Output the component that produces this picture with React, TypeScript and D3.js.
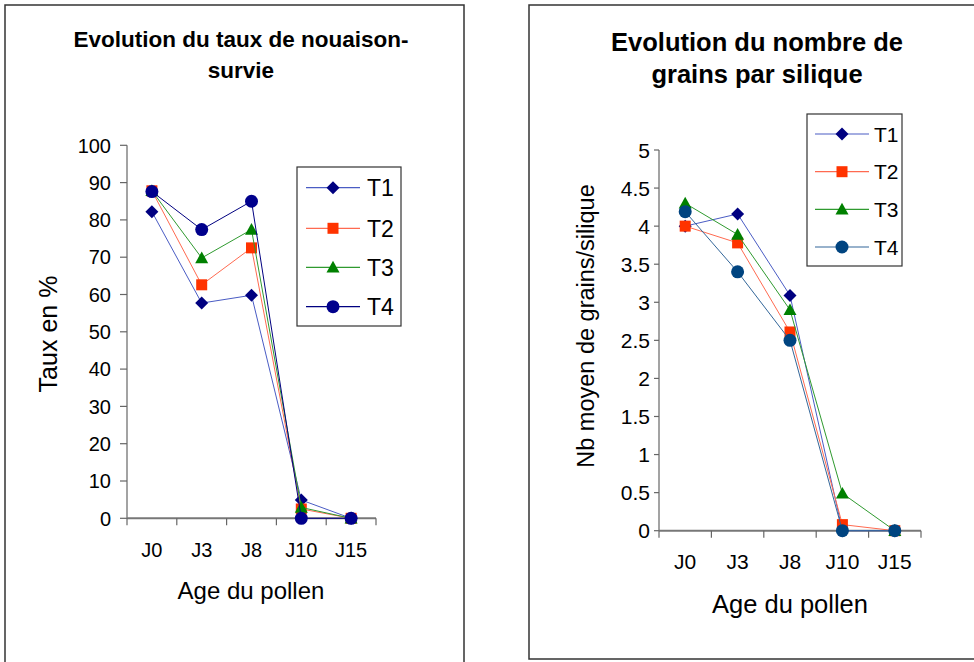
import React from "react";
import * as d3 from "d3";

const categories = ["J0", "J3", "J8", "J10", "J15"];
const seriesNames = ["T1", "T2", "T3", "T4"];

// Left chart: taux de nouaison-survie (%)
const leftT1 = [82.2, 57.7, 59.8, 4.9, 0];
const leftT2 = [87.8, 62.6, 72.5, 2.5, 0];
const leftT3 = [87.8, 69.8, 77.4, 2.9, 0];
const leftT4 = [87.6, 77.4, 85.0, 0, 0];
const leftTicks = [0, 10, 20, 30, 40, 50, 60, 70, 80, 90, 100];

// Right chart: nombre de grains par silique
const rightT1 = [4.0, 4.16, 3.09, 0, 0];
const rightT2 = [4.0, 3.78, 2.61, 0.08, 0];
const rightT3 = [4.3, 3.89, 2.9, 0.49, 0];
const rightT4 = [4.19, 3.4, 2.5, 0, 0];
const rightTicks = [0, 0.5, 1, 1.5, 2, 2.5, 3, 3.5, 4, 4.5, 5];

const FONT = "'Liberation Sans', Arial, sans-serif";

type Style = { line: string; fill: string; shape: string; size: number };

const leftStyles: Style[] = [
  { line: "#4a5cc4", fill: "#000080", shape: "diamond", size: 6.5 },
  { line: "#ff6a50", fill: "#ff3300", shape: "square", size: 5.5 },
  { line: "#2f9a2f", fill: "#008000", shape: "triangle", size: 6.5 },
  { line: "#000080", fill: "#00008c", shape: "circle", size: 6.5 },
];
const rightStyles: Style[] = [
  { line: "#4a5cc4", fill: "#000080", shape: "diamond", size: 6.5 },
  { line: "#ff6a50", fill: "#ff3300", shape: "square", size: 5.5 },
  { line: "#2f9a2f", fill: "#008000", shape: "triangle", size: 6.5 },
  { line: "#336699", fill: "#004480", shape: "circle", size: 6.5 },
];

function Marker({ x, y, s }: { x: number; y: number; s: Style }) {
  const r = s.size;
  if (s.shape === "diamond")
    return <path d={`M${x},${y - r}L${x + r},${y}L${x},${y + r}L${x - r},${y}Z`} fill={s.fill} />;
  if (s.shape === "square")
    return <rect x={x - r} y={y - r} width={2 * r} height={2 * r} fill={s.fill} />;
  if (s.shape === "triangle")
    return <path d={`M${x},${y - r}L${x + r},${y + r * 0.8}L${x - r},${y + r * 0.8}Z`} fill={s.fill} />;
  return <circle cx={x} cy={y} r={r} fill={s.fill} />;
}

type PanelProps = {
  series: number[][];
  styles: Style[];
  ticks: number[];
  yMax: number;
  xRange: [number, number];
  yRange: [number, number];
  tickLen: number;
  yLabelRight: number;
  yFont: number;
  xLabelY: number;
  xFont: number;
  title: string[];
  titleX: number;
  titleY: number[];
  titleFont: number;
  yTitle: string;
  yTitleX: number;
  yTitleY: number;
  yTitleFont: number;
  xTitleX: number;
  xTitleY: number;
  xTitleFont: number;
  legend: { x: number; y: number; w: number; h: number; rows: number[]; lineX: [number, number]; textX: number; font: number };
};

function Panel(p: PanelProps) {
  const x = d3.scalePoint<string>().domain(categories).range(p.xRange).padding(0.5);
  const y = d3.scaleLinear().domain([0, p.yMax]).range(p.yRange);
  const step = x.step();
  const bounds = d3.range(categories.length + 1).map((i) => p.xRange[0] + i * step);
  const line = d3
    .line<number>()
    .x((_, i) => x(categories[i])!)
    .y((d) => y(d));
  const fmt = (v: number) => String(v);
  return (
    <g>
      {p.title.map((t, i) => (
        <text
          key={i}
          x={p.titleX}
          y={p.titleY[i]}
          fontFamily={FONT}
          fontWeight="bold"
          fontSize={p.titleFont}
          textAnchor="middle"
          fill="#000"
        >
          {t}
        </text>
      ))}
      {/* y axis */}
      <line x1={p.xRange[0]} x2={p.xRange[0]} y1={y(0)} y2={y(p.yMax)} stroke="#666" strokeWidth={1.2} />
      {p.ticks.map((t) => (
        <g key={t}>
          <line x1={p.xRange[0] - p.tickLen} x2={p.xRange[0]} y1={y(t)} y2={y(t)} stroke="#666" strokeWidth={1.2} />
          <text x={p.yLabelRight} y={y(t)} dy="0.36em" textAnchor="end" fontFamily={FONT} fontSize={p.yFont} fill="#000">
            {fmt(t)}
          </text>
        </g>
      ))}
      {/* x axis */}
      <line x1={p.xRange[0]} x2={p.xRange[1]} y1={y(0)} y2={y(0)} stroke="#777" strokeWidth={2} />
      {bounds.map((b, i) => (
        <line key={i} x1={b} x2={b} y1={y(0)} y2={y(0) + 7} stroke="#666" strokeWidth={1.2} />
      ))}
      {categories.map((c) => (
        <text key={c} x={x(c)} y={p.xLabelY} textAnchor="middle" fontFamily={FONT} fontSize={p.xFont} fill="#000">
          {c}
        </text>
      ))}
      <text x={p.xTitleX} y={p.xTitleY} textAnchor="middle" fontFamily={FONT} fontSize={p.xTitleFont} fill="#000">
        Age du pollen
      </text>
      <text
        transform={`translate(${p.yTitleX},${p.yTitleY}) rotate(-90)`}
        textAnchor="middle"
        dy="0.36em"
        fontFamily={FONT}
        fontSize={p.yTitleFont}
        fill="#000"
      >
        {p.yTitle}
      </text>
      {/* series */}
      {p.series.map((s, si) => (
        <g key={si}>
          <path d={line(s)!} fill="none" stroke={p.styles[si].line} strokeWidth={1} />
          {s.map((v, i) => (
            <Marker key={i} x={x(categories[i])!} y={y(v)} s={p.styles[si]} />
          ))}
        </g>
      ))}
      {/* legend */}
      <rect x={p.legend.x} y={p.legend.y} width={p.legend.w} height={p.legend.h} fill="#fff" stroke="#333" strokeWidth={1.2} />
      {seriesNames.map((n, i) => {
        const ry = p.legend.rows[i];
        const mx = (p.legend.lineX[0] + p.legend.lineX[1]) / 2;
        return (
          <g key={n}>
            <line x1={p.legend.lineX[0]} x2={p.legend.lineX[1]} y1={ry} y2={ry} stroke={p.styles[i].line} strokeWidth={1.2} />
            <Marker x={mx} y={ry} s={p.styles[i]} />
            <text x={p.legend.textX} y={ry} dy="0.36em" fontFamily={FONT} fontSize={p.legend.font} fill="#000">
              {n}
            </text>
          </g>
        );
      })}
    </g>
  );
}

export default function App() {
  return (
    <svg width={974} height={662} style={{ position: "absolute", left: 0, top: 0, background: "#fff" }}>
      <rect x={0} y={0} width={974} height={662} fill="#fff" />
      <rect x={5} y={5} width={459} height={680} fill="none" stroke="#333" strokeWidth={1.5} />
      <rect x={529} y={5} width={470} height={654} fill="none" stroke="#333" strokeWidth={1.5} />
      <Panel
        series={[leftT1, leftT2, leftT3, leftT4]}
        styles={leftStyles}
        ticks={leftTicks}
        yMax={100}
        xRange={[127, 376]}
        yRange={[518.3, 145.3]}
        tickLen={7}
        yLabelRight={111}
        yFont={20}
        xLabelY={557}
        xFont={20}
        title={["Evolution du taux de nouaison-", "survie"]}
        titleX={241}
        titleY={[47, 78]}
        titleFont={22.5}
        yTitle="Taux en %"
        yTitleX={48}
        yTitleY={334}
        yTitleFont={25}
        xTitleX={251}
        xTitleY={599}
        xTitleFont={24}
        legend={{ x: 297, y: 167, w: 104, h: 159, rows: [187.7, 228.3, 267.3, 306.7], lineX: [306, 360], textX: 367, font: 23 }}
      />
      <Panel
        series={[rightT1, rightT2, rightT3, rightT4]}
        styles={rightStyles}
        ticks={rightTicks}
        yMax={5}
        xRange={[659, 921]}
        yRange={[530.7, 150]}
        tickLen={5}
        yLabelRight={650}
        yFont={21}
        xLabelY={569}
        xFont={21}
        title={["Evolution du nombre de", "grains par silique"]}
        titleX={757}
        titleY={[51, 83]}
        titleFont={25.5}
        yTitle="Nb moyen de grains/silique"
        yTitleX={586}
        yTitleY={326}
        yTitleFont={23.5}
        xTitleX={790}
        xTitleY={613}
        xTitleFont={25.5}
        legend={{ x: 807, y: 114, w: 95, h: 152, rows: [134, 171.7, 209.3, 247], lineX: [815, 869], textX: 874, font: 21 }}
      />
    </svg>
  );
}
